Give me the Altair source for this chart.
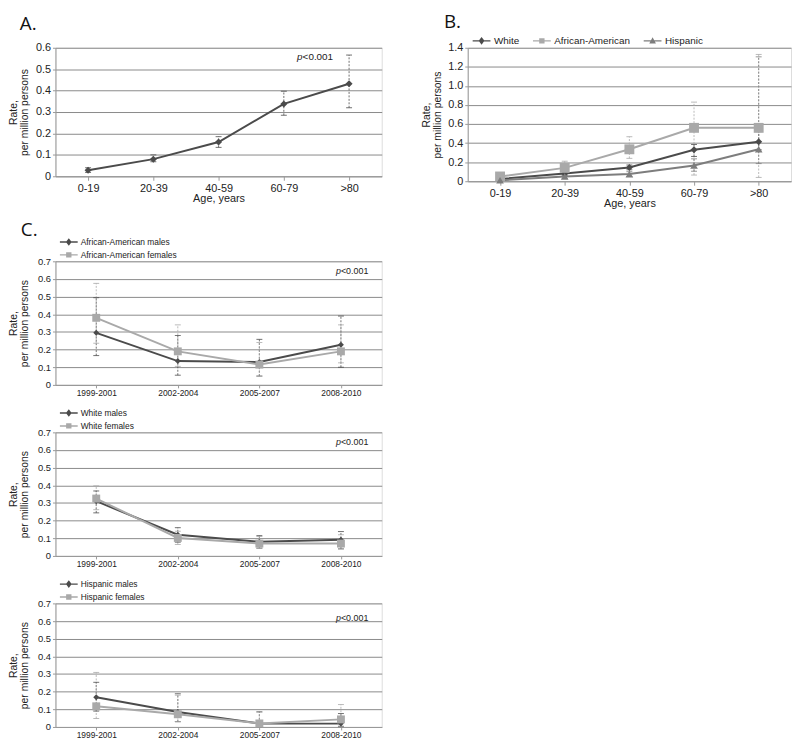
import altair as alt
import pandas as pd

FONT = "Liberation Sans"
LETTER_FONT = "Open Sans"
DARK = "#4b4b4b"
LIGHT = "#a9a9a9"
MID = "#7d7d7d"
GRID = "#8a8a8a"
AXIS = "#9a9a9a"

# ---------------- Panel A ----------------
ages = ["0-19", "20-39", "40-59", "60-79", ">80"]
a_rate = [0.028, 0.080, 0.160, 0.338, 0.432]
a_lo = [0.018, 0.068, 0.135, 0.285, 0.320]
a_hi = [0.040, 0.100, 0.185, 0.397, 0.566]
a_ticks = [0, 0.1, 0.2, 0.3, 0.4, 0.5, 0.6]

# ---------------- Panel B ----------------
b_series = ["White", "African-American", "Hispanic"]
b_white = [0.024, 0.080, 0.145, 0.330, 0.415]
b_white_lo = [0.012, 0.062, 0.120, 0.260, 0.330]
b_white_hi = [0.040, 0.100, 0.170, 0.385, 0.520]
b_aa = [0.050, 0.140, 0.335, 0.560, 0.560]
b_aa_lo = [0.020, 0.080, 0.240, 0.065, 0.040]
b_aa_hi = [0.080, 0.210, 0.467, 0.830, 1.330]
b_hisp = [0.010, 0.050, 0.075, 0.165, 0.335]
b_hisp_lo = [0.002, 0.030, 0.050, 0.105, 0.185]
b_hisp_hi = [0.040, 0.075, 0.100, 0.235, 1.305]
b_ticks = [0, 0.2, 0.4, 0.6, 0.8, 1.0, 1.2, 1.4]

# ---------------- Panel C ----------------
periods = ["1999-2001", "2002-2004", "2005-2007", "2008-2010"]
c_ticks = [0, 0.1, 0.2, 0.3, 0.4, 0.5, 0.6, 0.7]

c1_series = ["African-American males", "African-American females"]
c1_m = [0.295, 0.135, 0.130, 0.227]
c1_m_lo = [0.166, 0.055, 0.050, 0.100]
c1_m_hi = [0.494, 0.280, 0.258, 0.390]
c1_f = [0.380, 0.190, 0.115, 0.190]
c1_f_lo = [0.236, 0.105, 0.050, 0.125]
c1_f_hi = [0.575, 0.340, 0.240, 0.340]

c2_series = ["White males", "White females"]
c2_m = [0.310, 0.120, 0.080, 0.092]
c2_m_lo = [0.244, 0.078, 0.044, 0.040]
c2_m_hi = [0.368, 0.160, 0.115, 0.138]
c2_f = [0.325, 0.102, 0.070, 0.070]
c2_f_lo = [0.262, 0.065, 0.044, 0.040]
c2_f_hi = [0.397, 0.140, 0.110, 0.120]

c3_series = ["Hispanic males", "Hispanic females"]
c3_m = [0.168, 0.085, 0.020, 0.019]
c3_m_lo = [0.090, 0.030, 0.002, 0.002]
c3_m_hi = [0.253, 0.188, 0.086, 0.076]
c3_f = [0.117, 0.072, 0.020, 0.043]
c3_f_lo = [0.048, 0.030, 0.002, 0.005]
c3_f_hi = [0.309, 0.180, 0.084, 0.127]

# p-value annotations: category anchor and value
p_cat_a, p_y_a = ">80", 0.555
p_cat_c, p_y_c = "2008-2010", [0.643, 0.645, 0.616]

LABEL_EXPR = "datum.value == 0 ? '0' : format(datum.value, '.1f')"

# legend symbol paths (line segment + marker), shifted right of the symbol centre
LINE_SEG = "M0,-0.16L4,-0.16L4,0.16L0,0.16Z"
P_DIAMOND = LINE_SEG + "M2,-0.85L2.65,0L2,0.85L1.35,0Z"
P_SQUARE = LINE_SEG + "M1.4,-0.6L2.6,-0.6L2.6,0.6L1.4,0.6Z"
P_TRIANGLE = LINE_SEG + "M2,-0.8L2.75,0.6L1.25,0.6Z"


def long_df(cats, names, rates, los, his):
    rows = []
    for s, r, l, h in zip(names, rates, los, his):
        for c, rv, lv, hv in zip(cats, r, l, h):
            rows.append({"cat": c, "series": s, "rate": rv, "lo": lv, "hi": hv})
    return pd.DataFrame(rows)


def panel(df, cats, names, colors, shapes, sizes, leg_paths, ydom, yvals,
          width, height, xtitle, fs_y, fs_x, legend_dir, p_cat, p_y, p_fs, p_dx,
          title_text, title_dx, title_offset, legend_offset, label_fs, row_pad,
          xtick, xpad):
    xaxis = alt.Axis(title=xtitle, labelAngle=0, labelFontSize=fs_x, titleFontSize=11,
                     titleFontWeight="normal", titlePadding=0, domainColor=AXIS,
                     tickColor=AXIS, tickSize=xtick, labelPadding=xpad, grid=False,
                     labelColor="#222", titleColor="#222")
    yaxis = alt.Axis(values=yvals, labelExpr=LABEL_EXPR, title=["Rate,", "per million persons"],
                     grid=True, gridColor=GRID, gridWidth=1, domainColor=AXIS, tickColor=AXIS,
                     tickSize=3, labelFontSize=fs_y, titleFontSize=10.5, titleFontWeight="normal",
                     titlePadding=4, minExtent=22, maxExtent=22, labelPadding=2,
                     titleLineHeight=11, labelColor="#222", titleColor="#222")
    xenc = alt.X("cat:N", sort=cats, scale=alt.Scale(type="point", padding=0.5), axis=xaxis)

    def yq(field):
        return alt.Y(field, type="quantitative",
                     scale=alt.Scale(domain=ydom, nice=False, zero=True), axis=yaxis)

    cscale = alt.Scale(domain=names, range=colors)
    cenc = alt.Color("series:N", scale=cscale, legend=None)
    base = alt.Chart(df)

    layers = []
    if leg_paths is not None:
        lg = alt.Legend(title=None, orient="top", direction=legend_dir, symbolSize=81,
                        labelFontSize=label_fs, labelColor="#222", symbolStrokeWidth=0,
                        labelOffset=16.5, columnPadding=8, rowPadding=row_pad,
                        offset=legend_offset, padding=0)
        layers.append(
            base.mark_point(filled=True, size=81, opacity=1).encode(
                x=xenc, y=yq("rate"),
                color=alt.Color("series:N", scale=cscale, legend=lg),
                shape=alt.Shape("series:N", scale=alt.Scale(domain=names, range=leg_paths), legend=lg),
            ).transform_filter("false")
        )
    layers += [
        base.mark_rule(strokeDash=[2, 1.5], strokeWidth=1, opacity=0.8).encode(
            x=xenc, y=yq("lo"), y2=alt.Y2("hi"), color=cenc),
        base.mark_tick(size=6, thickness=1, orient="horizontal", opacity=0.8).encode(
            x=xenc, y=yq("lo"), color=cenc),
        base.mark_tick(size=6, thickness=1, orient="horizontal", opacity=0.8).encode(
            x=xenc, y=yq("hi"), color=cenc),
        base.mark_line(strokeWidth=2).encode(x=xenc, y=yq("rate"), color=cenc),
    ]
    for s, shp, sz in zip(names, shapes, sizes):
        layers.append(
            base.mark_point(shape=shp, filled=True, size=sz, opacity=1).encode(
                x=xenc, y=yq("rate"), color=cenc
            ).transform_filter(alt.datum.series == s)
        )
    if p_cat is not None:
        pdf = pd.DataFrame({"cat": [p_cat], "rate": [p_y]})
        layers.append(alt.Chart(pdf).mark_text(text="p", fontStyle="italic", align="right",
                                               baseline="middle", fontSize=p_fs, dx=p_dx, color="#222"
                                               ).encode(x=xenc, y=yq("rate")))
        layers.append(alt.Chart(pdf).mark_text(text="<0.001", align="left", baseline="middle",
                                               fontSize=p_fs, dx=p_dx, color="#222"
                                               ).encode(x=xenc, y=yq("rate")))
    props = dict(width=width, height=height)
    if title_text is not None:
        props["title"] = alt.Title(title_text, anchor="start", frame="group", font=LETTER_FONT,
                                   fontSize=19, fontWeight="normal", dx=title_dx,
                                   offset=title_offset, color="#111")
    return alt.layer(*layers).properties(**props)


dfA = long_df(ages, ["All"], [a_rate], [a_lo], [a_hi])
chartA = panel(dfA, ages, ["All"], [DARK], ["diamond"], [50], None, [0, 0.6], a_ticks,
               330, 130, "Age, years", 11, 11, "horizontal", p_cat_a, p_y_a, 10, -47,
               "A.", -36, 8, 2, 10, 3, 4, 2)

dfB = long_df(ages, b_series, [b_white, b_aa, b_hisp], [b_white_lo, b_aa_lo, b_hisp_lo],
              [b_white_hi, b_aa_hi, b_hisp_hi])
chartB = panel(dfB, ages, b_series, [DARK, LIGHT, MID], ["diamond", "square", "triangle-up"],
               [50, 100, 60], [P_DIAMOND, P_SQUARE, P_TRIANGLE], [0, 1.4], b_ticks,
               327, 135, "Age, years", 11, 11, "horizontal", None, None, 10, 0,
               "B.", -24, 4, 2, 10, 3, 4, 2)


def c_panel(series, m, mlo, mhi, f, flo, fhi, py, title_text):
    df = long_df(periods, series, [m, f], [mlo, flo], [mhi, fhi])
    return panel(df, periods, series, [DARK, LIGHT], ["diamond", "square"], [36, 64],
                 [P_DIAMOND, P_SQUARE], [0, 0.7], c_ticks, 330, 125, None, 9.5, 8.5,
                 "vertical", p_cat_c, py, 9, 0, title_text, -35, -2, 2, 8.5, 4, 3, 1)


c1 = c_panel(c1_series, c1_m, c1_m_lo, c1_m_hi, c1_f, c1_f_lo, c1_f_hi, p_y_c[0], "C.")
c2 = c_panel(c2_series, c2_m, c2_m_lo, c2_m_hi, c2_f, c2_f_lo, c2_f_hi, p_y_c[1], None)
c3 = c_panel(c3_series, c3_m, c3_m_lo, c3_m_hi, c3_f, c3_f_lo, c3_f_hi, p_y_c[2], None)

top = alt.hconcat(chartA, chartB, spacing=38).resolve_scale(color="independent", shape="independent")
bottom = alt.vconcat(c1, c2, c3, spacing=10).resolve_scale(color="independent", shape="independent")
chart = alt.vconcat(top, bottom, spacing=10).resolve_scale(
    color="independent", shape="independent"
).properties(padding=0).configure_view(stroke=None).configure(font=FONT).configure_axis(
    labelFont=FONT, titleFont=FONT
).configure_legend(labelFont=FONT)

chart.save("out.html", embed_options={"renderer": "svg", "actions": False})
